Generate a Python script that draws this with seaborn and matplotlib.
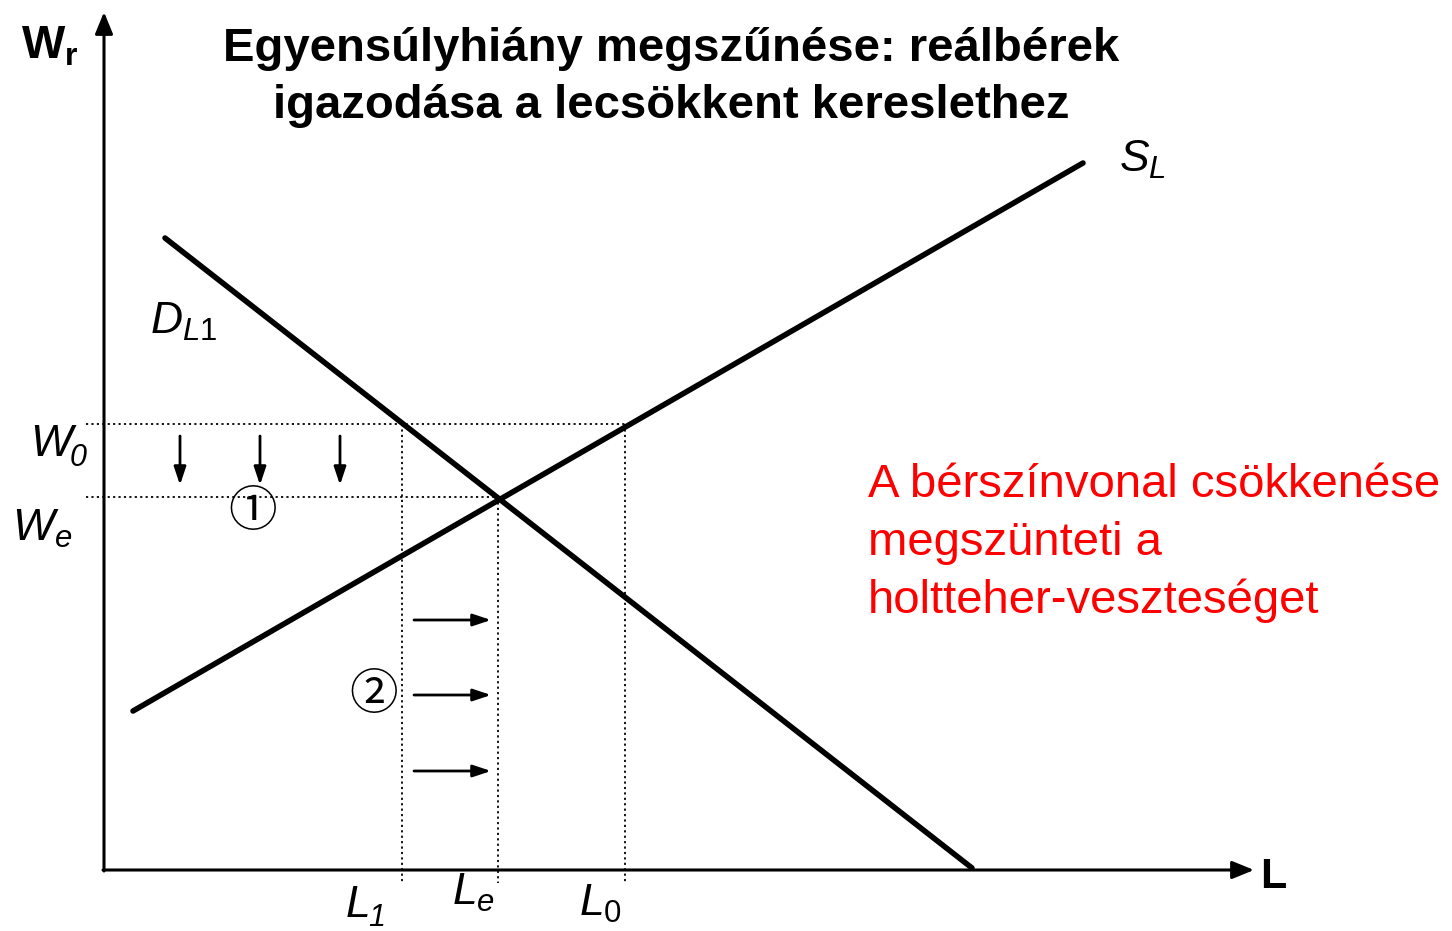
import matplotlib
matplotlib.use("Agg")
import matplotlib.pyplot as plt
import seaborn as sns
import pandas as pd

# Curve endpoints (L, W) in drawing units; y grows downward
demand_L = [165, 972]
demand_W = [238, 868]
supply_L = [133, 1083]
supply_W = [711, 163]

# Wage levels and employment levels
wage_names = ["W0", "We"]
wage_levels = [424, 497]
emp_names = ["L1", "Le", "L0"]
emp_levels = [402, 498, 625]

# Downward wage adjustment arrows and rightward employment arrows
down_arrow_L = [180, 260, 340]
right_arrow_W = [620, 695, 771]

title_lines = ["Egyensúlyhiány megszűnése: reálbérek", "igazodása a lecsökkent kereslethez"]
note_lines = ["A bérszínvonal csökkenése", "megszünteti a", "holtteher-veszteséget"]

sns.set_theme(style="white")
plt.rcParams["font.family"] = ["Liberation Sans", "DejaVu Sans"]
plt.rcParams["text.color"] = "black"
plt.rcParams["mathtext.fontset"] = "custom"
plt.rcParams["mathtext.rm"] = "Liberation Sans"
plt.rcParams["mathtext.it"] = "Liberation Sans:italic"
plt.rcParams["mathtext.bf"] = "Liberation Sans:bold"

fig = plt.figure(figsize=(14.52, 9.31), dpi=100)
ax = fig.add_axes([0, 0, 1, 1])
ax.set_xlim(0, 1452)
ax.set_ylim(931, 0)
ax.axis("off")

curves = pd.concat([
    pd.DataFrame({"L": demand_L, "W": demand_W, "curve": "D"}),
    pd.DataFrame({"L": supply_L, "W": supply_W, "curve": "S"}),
])
sns.lineplot(data=curves, x="L", y="W", units="curve", estimator=None,
             color="black", linewidth=4.0, sort=False, ax=ax, legend=False)

# Axes with arrowheads
ax.annotate("", xy=(104, 12), xytext=(104, 871),
            arrowprops=dict(arrowstyle="-|>,head_length=1.1,head_width=0.45",
                            color="black", lw=2.2, shrinkA=0, shrinkB=0))
ax.annotate("", xy=(1254, 870), xytext=(103, 870),
            arrowprops=dict(arrowstyle="-|>,head_length=1.1,head_width=0.45",
                            color="black", lw=2.2, shrinkA=0, shrinkB=0))

# Dotted guide lines
w0, we = wage_levels
l1, le, l0 = emp_levels
dot = dict(color="black", lw=1.3, ls=(0, (1.2, 1.8)))
ax.plot([86, l0], [w0, w0], **dot)
ax.plot([86, le], [we, we], **dot)
ax.plot([l1, l1], [w0, 883], **dot)
ax.plot([le, le], [we, 883], **dot)
ax.plot([l0, l0], [w0, 883], **dot)

arrow_kw = dict(arrowstyle="-|>,head_length=0.9,head_width=0.3",
                color="black", lw=2, shrinkA=0, shrinkB=0)
for x in down_arrow_L:
    ax.annotate("", xy=(x, 485), xytext=(x, 436), arrowprops=arrow_kw)
for y in right_arrow_W:
    ax.annotate("", xy=(491, y), xytext=(414, y), arrowprops=arrow_kw)

ax.text(253, 512, "①", fontsize=35, ha="center", va="center",
        family=["Noto Sans CJK JP", "DejaVu Sans"])
ax.text(374, 695, "②", fontsize=35, ha="center", va="center",
        family=["Noto Sans CJK JP", "DejaVu Sans"])

# Axis names
ax.text(50, 47, r"$\mathbf{W}_\mathbf{r}$", fontsize=33, ha="center", va="center")
ax.text(1273, 877, "L", fontsize=31, fontweight="bold", ha="center", va="center")

# Labels whose subscripts are italic digits: main letter + smaller subscript
ital = dict(fontsize=32, style="italic", va="baseline")
sub = dict(fontsize=22, style="italic", va="baseline")
ax.text(72, 456, "W", ha="right", **ital)
ax.text(70, 466, "0", ha="left", **sub)
ax.text(370, 917, "L", ha="right", **ital)
ax.text(368, 926, "1", ha="left", **sub)

mt = dict(fontsize=32, ha="center", va="center")
ax.text(42, 529, r"$W_e$", **mt)
ax.text(473, 893, r"$L_e$", **mt)
ax.text(600, 904, r"$L_\mathrm{0}$", **mt)
ax.text(1142, 160, r"$S_L$", **mt)
ax.text(184, 322, r"$D_{L\mathrm{1}}$", **mt)

for i, line in enumerate(title_lines):
    ax.text(671, 49 + 57 * i, line, fontsize=34, fontweight="bold",
            ha="center", va="center")

for i, line in enumerate(note_lines):
    ax.text(868, 485 + 58 * i, line, fontsize=34, color="#ff0000",
            ha="left", va="center")

fig.savefig("out.png", dpi=100)
